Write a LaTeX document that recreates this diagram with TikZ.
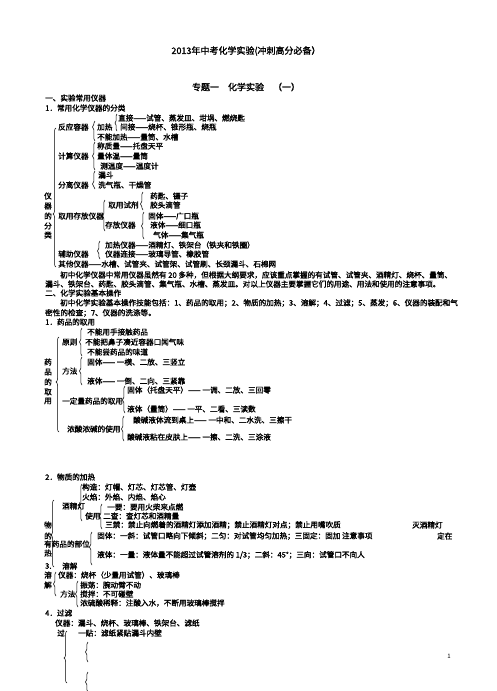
\documentclass[tikz,border=0pt]{standalone}
\usepackage{fontspec}
\setmainfont{Noto Sans CJK SC}[AutoFakeBold=1.6]
\usetikzlibrary{decorations.pathreplacing}
\tikzset{
  txt/.style={anchor=west, inner sep=0pt, font=\fontsize{7.6pt}{9pt}\selectfont\bfseries},
  ttl/.style={anchor=center, inner sep=0pt, font=\fontsize{9pt}{10pt}\selectfont\bfseries},
  br/.style={draw=black, line width=0.5pt, decorate},
}
\newcommand\Tx[4]{\node[txt] (#1) at (#2,#3) {#4};}
% x, top, bottom, cusp, amplitude
\newcommand\Brc[5]{\pgfmathsetmacro\brasp{(#3-#4)/(#3-#2)}%
  \draw[br, decoration={brace, amplitude=#5pt, aspect=\brasp}] (#1,#3) -- (#1,#2);}
\begin{document}
\begin{tikzpicture}[x=1pt,y=-1pt]
\useasboundingbox (0,0) rectangle (496,691);
\fill[white] (0,0) rectangle (496,691);
% titles
\node[ttl] (title) at (246,51) {2013年中考化学实验(冲刺高分必备）};
\node[ttl] (sub) at (246,87) {专题一　化学实验　（一）};
% section 1
\Tx{s1}{45}{98}{一、实验常用仪器}
\Tx{s11}{45}{108}{1．常用化学仪器的分类}
\Tx{a1}{118}{118}{直接——试管、蒸发皿、坩埚、燃烧匙}
\Tx{a2}{58}{127}{反应容器}
\Tx{a3}{97}{127}{加热}
\Tx{a4}{120}{127}{间接——烧杯、锥形瓶、烧瓶}
\Tx{a5}{97}{137}{不能加热——量筒、水槽}
\Tx{a6}{97}{146}{称质量——托盘天平}
\Tx{a7}{58}{156}{计算仪器}
\Tx{a8}{97}{156}{量体温——量筒}
\Tx{a9}{100}{166}{测温度——温度计}
\Tx{a10}{98}{175}{漏斗}
\Tx{a11}{58}{185}{分离仪器}
\Tx{a12}{98}{185}{洗气瓶、干燥管}
\Tx{v1}{44}{196}{仪}
\Tx{v2}{44}{206}{器}
\Tx{v3}{44}{216}{的}
\Tx{v4}{44}{226}{分}
\Tx{v5}{44}{235}{类}
\Tx{a13}{150}{196}{药匙、镊子}
\Tx{a14}{108}{205}{取用试剂}
\Tx{a15}{150}{205}{胶头滴管}
\Tx{a16}{58}{216}{取用存放仪器}
\Tx{a17}{148}{216}{固体——广口瓶}
\Tx{a18}{105}{225}{存放仪器}
\Tx{a19}{150}{225}{液体——细口瓶}
\Tx{a20}{153}{235}{气体——集气瓶}
\Tx{a21}{105}{245}{加热仪器——酒精灯、铁架台（铁夹和铁圈）}
\Tx{a22}{58}{254}{辅助仪器}
\Tx{a23}{105}{254}{仪器连接——玻璃导管、橡胶管}
\Tx{a24}{58}{264}{其他仪器——水槽、试管夹、试管架、试管刷、长颈漏斗、石棉网}
\Brc{56}{128}{267}{214}{3}
\Brc{95}{121}{141}{127}{2.5}
\Brc{117}{114}{131}{123}{2}
\Brc{95}{142}{170}{156}{2.5}
\Brc{95}{171}{189}{184}{2.5}
\Brc{105}{200}{231}{216}{2.5}
\Brc{143}{192}{210}{204}{2.5}
\Brc{144}{212}{239}{226}{2.5}
\Brc{100}{241}{259}{251}{2.5}
% paragraph
\Tx{p1}{60}{275}{初中化学仪器中常用仪器虽然有 20 多种，但根据大纲要求，应该重点掌握的有试管、试管夹、酒精灯、烧杯、量筒、}
\Tx{p2}{45}{284}{漏斗、铁架台、药匙、胶头滴管、集气瓶、水槽、蒸发皿。对以上仪器主要掌握它们的用途、用法和使用的注意事项。}
\Tx{s2}{45}{293}{二、化学实验基本操作}
\Tx{p3}{60}{303}{初中化学实验基本操作技能包括：1、药品的取用；2、物质的加热；3、溶解；4、过滤；5、蒸发；6、仪器的装配和气}
\Tx{p4}{45}{313}{密性的检查；7、仪器的洗涤等。}
% 药品的取用
\Tx{s21}{45}{322}{1．药品的取用}
\Tx{b1}{87}{332}{不能用手接触药品}
\Tx{b2}{62}{342}{原则}
\Tx{b3}{85}{342}{不能把鼻子凑近容器口闻气味}
\Tx{b4}{87}{352}{不能尝药品的味道}
\Tx{b5}{87}{362}{固体—— 一横、二放、三竖立}
\Tx{b6}{62}{371}{方法}
\Tx{b7}{87}{381}{液体—— 一倒、二向、三紧靠}
\Tx{w1}{44}{362}{药}
\Tx{w2}{44}{372}{品}
\Tx{w3}{44}{382}{的}
\Tx{w4}{44}{392}{取}
\Tx{w5}{44}{401}{用}
\Tx{b8}{127}{390}{固体（托盘天平）—— 一调、二放、三回零}
\Tx{b9}{62}{401}{一定量药品的取用}
\Tx{b10}{127}{409}{液体（量筒）—— 一平、二看、三读数}
\Tx{b11}{133}{420}{酸碱液体流到桌上—— 一中和、二水洗、三擦干}
\Tx{b12}{67}{429}{浓酸浓碱的使用}
\Tx{b13}{127}{437}{酸碱液粘在皮肤上—— 一擦、二洗、三涂液}
\Brc{59}{337}{432}{382}{3}
\Brc{82}{328}{356}{342}{2.5}
\Brc{82}{357}{385}{371}{2.5}
\Brc{125}{386}{413}{400}{2.5}
\Brc{124}{416}{441}{429}{2.5}
% 物质的加热
\Tx{s22}{45}{477}{2．物质的加热}
\Tx{c1}{82}{487}{构造：灯帽、灯芯、灯芯管、灯壶}
\Tx{c2}{82}{497}{火焰：外焰、内焰、焰心}
\Tx{c3}{62}{506}{酒精灯}
\Tx{c4}{107}{507}{一要：要用火柴来点燃}
\Tx{c5}{85}{516}{使用}
\Tx{c6}{103}{516}{二查：查灯芯和酒精量}
\Tx{c7}{105}{525}{三禁：禁止向燃着的酒精灯添加酒精；禁止酒精灯对点；禁止用嘴吹质}
\Tx{c8}{412}{525}{灭酒精灯}
\Tx{x1}{44}{525}{物}
\Tx{x2}{44}{536}{的}
\Tx{c9}{97}{536}{固体：一斜：试管口略向下倾斜；二匀：对试管均匀加热；三固定：固加 注意事项}
\Tx{c10}{437}{536}{定在}
\Tx{x3}{44}{544}{有药品的部位}
\Tx{x4}{44}{553}{热}
\Tx{c11}{97}{555}{液体：一量：液体量不能超过试管溶剂的 1/3；二斜：45°；三向：试管口不向人}
\Brc{54}{500}{567}{535}{3}
\Brc{82}{484}{521}{506}{2.5}
\Brc{102}{504}{529}{516}{2.5}
\Brc{92}{532}{565}{547}{2.5}
% 溶解
\Tx{s23}{45}{566}{3.}
\Tx{d0}{62}{566}{溶解}
\Tx{y1}{44}{575}{溶}
\Tx{y2}{44}{585}{解}
\Tx{d1}{58}{575}{仪器：烧杯（少量用试管）、玻璃棒}
\Tx{d2}{80}{585}{振荡：腕动臂不动}
\Tx{d3}{60}{594}{方法}
\Tx{d4}{80}{594}{搅拌：不可碰壁}
\Tx{d5}{80}{603}{浓硫酸稀释：注酸入水，不断用玻璃棒搅拌}
\Brc{56}{572}{596}{584}{2.5}
\Brc{78}{581}{607}{594}{2.5}
% 过滤
\Tx{s24}{45}{613}{4．过滤}
\Tx{e1}{55}{623}{仪器：漏斗、烧杯、玻璃棒、铁架台、滤纸}
\Tx{e2}{57}{633}{过}
\Tx{e3}{78}{633}{一贴：滤纸紧贴漏斗内壁}
\Brc{67}{631}{683}{658}{3}
\Brc{88}{642}{662}{652}{2.5}
\Brc{88}{672}{692}{682}{2.5}
% page number
\node[anchor=center, inner sep=0pt, font=\fontsize{6pt}{7pt}\selectfont] (pg) at (449,656) {1};
\end{tikzpicture}
\end{document}
